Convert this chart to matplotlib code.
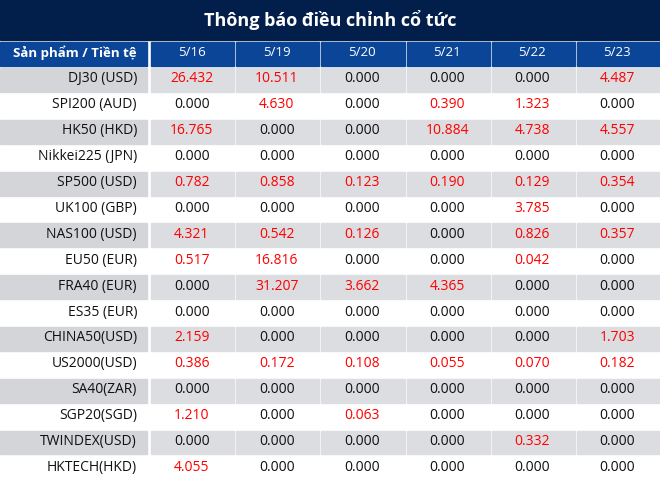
import matplotlib.pyplot as plt
from matplotlib.patches import Rectangle

plt.rcParams['font.family'] = 'sans-serif'
plt.rcParams['font.sans-serif'] = ['Open Sans', 'DejaVu Sans']

title = 'Thông báo điều chỉnh cổ tức'
header_label = 'Sản phẩm / Tiền tệ'
dates = ['5/16', '5/19', '5/20', '5/21', '5/22', '5/23']
products = ['DJ30 (USD)', 'SPI200 (AUD)', 'HK50 (HKD)', 'Nikkei225 (JPN)',
            'SP500 (USD)', 'UK100 (GBP)', 'NAS100 (USD)', 'EU50 (EUR)',
            'FRA40 (EUR)', 'ES35 (EUR)', 'CHINA50(USD)', 'US2000(USD)',
            'SA40(ZAR)', 'SGP20(SGD)', 'TWINDEX(USD)', 'HKTECH(HKD)']
values = [
    [26.432, 10.511, 0.000, 0.000, 0.000, 4.487],
    [0.000, 4.630, 0.000, 0.390, 1.323, 0.000],
    [16.765, 0.000, 0.000, 10.884, 4.738, 4.557],
    [0.000, 0.000, 0.000, 0.000, 0.000, 0.000],
    [0.782, 0.858, 0.123, 0.190, 0.129, 0.354],
    [0.000, 0.000, 0.000, 0.000, 3.785, 0.000],
    [4.321, 0.542, 0.126, 0.000, 0.826, 0.357],
    [0.517, 16.816, 0.000, 0.000, 0.042, 0.000],
    [0.000, 31.207, 3.662, 4.365, 0.000, 0.000],
    [0.000, 0.000, 0.000, 0.000, 0.000, 0.000],
    [2.159, 0.000, 0.000, 0.000, 0.000, 1.703],
    [0.386, 0.172, 0.108, 0.055, 0.070, 0.182],
    [0.000, 0.000, 0.000, 0.000, 0.000, 0.000],
    [1.210, 0.000, 0.063, 0.000, 0.000, 0.000],
    [0.000, 0.000, 0.000, 0.000, 0.332, 0.000],
    [4.055, 0.000, 0.000, 0.000, 0.000, 0.000],
]

W, H = 660, 483
fig = plt.figure(figsize=(W / 100, H / 100), dpi=100)
ax = fig.add_axes([0, 0, 1, 1])
ax.set_xlim(0, W)
ax.set_ylim(H, 0)
ax.axis('off')

title_h, head_top, head_h, row_h = 40, 40, 26, 25.9
first_w = 149
col_w = (W - first_w) / len(dates)
gap = 2.0

ax.add_patch(Rectangle((0, 0), W, title_h, color='#021e4a'))
ax.text(W / 2, title_h / 2, title, color='white', fontsize=13,
        fontweight='bold', ha='center', va='center')

ax.add_patch(Rectangle((0, head_top + gap), first_w - gap, head_h - gap, color='#0b4597'))
ax.text(first_w / 2, head_top + head_h / 2, header_label, color='white',
        fontsize=9.5, fontweight='bold', ha='center', va='center')
for j, d in enumerate(dates):
    x0 = first_w + j * col_w
    ax.add_patch(Rectangle((x0 + gap, head_top + gap), col_w - gap, head_h - gap, color='#0b4597'))
    ax.text(x0 + col_w / 2, head_top + head_h / 2, d, color='white',
            fontsize=9.5, ha='center', va='center')

top = head_top + head_h
for i, (p, row) in enumerate(zip(products, values)):
    y0 = top + i * row_h
    shaded = i % 2 == 0
    lab_c = '#d3d5d9' if shaded else 'white'
    cell_c = '#dcdde1' if shaded else 'white'
    ax.add_patch(Rectangle((0, y0 + gap), first_w - gap, row_h - gap, color=lab_c))
    ax.text(first_w - 12, y0 + row_h / 2, p, color='#111111', fontsize=10,
            ha='right', va='center')
    for j, v in enumerate(row):
        x0 = first_w + j * col_w
        ax.add_patch(Rectangle((x0 + gap, y0 + gap), col_w - gap, row_h - gap, color=cell_c))
        ax.text(x0 + col_w / 2, y0 + row_h / 2, f'{v:.3f}',
                color='#ff0000' if v > 0 else '#111111', fontsize=10,
                ha='center', va='center')

fig.savefig('out.png', dpi=100, facecolor='white')
